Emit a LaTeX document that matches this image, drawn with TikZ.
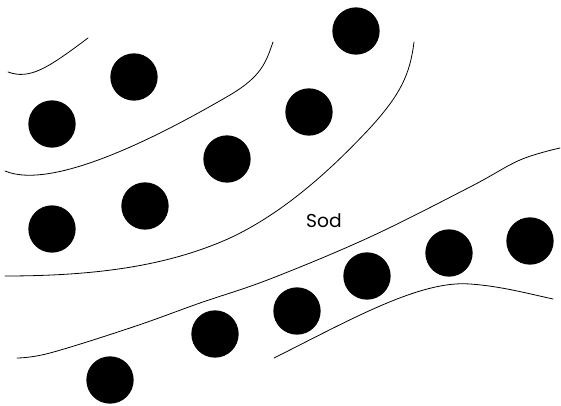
\documentclass[tikz,border=0pt]{standalone}
\usepackage{fontspec}
\setmainfont{Poppins}
\usepackage{tikz}
\usetikzlibrary{positioning}
\definecolor{ink}{HTML}{000000}
\tikzset{
  % --- nodes
  stone/.style = {circle, fill=ink, draw=none, minimum size=35.5pt, inner sep=0pt},
  lbl/.style   = {font=\fontsize{14}{16}\selectfont, text=ink},
  % --- lines
  seam/.style  = {draw=ink, line width=0.6pt, line cap=round},
}
\begin{document}
\begin{tikzpicture}[x=0.75pt, y=-0.75pt]
  \useasboundingbox (0,0) rectangle (561,406);

  % stones, upper band
  \node[stone] (s1)  at (356,31)  {};
  \node[stone] (s2)  at (134,77)  {};
  \node[stone] (s3)  at (52,124)  {};
  \node[stone] (s4)  at (309,112) {};
  \node[stone] (s5)  at (227,159) {};
  \node[stone] (s6)  at (145,206) {};
  \node[stone] (s7)  at (52,229)  {};
  % stones, lower band
  \node[stone] (s8)  at (530,241) {};
  \node[stone] (s9)  at (449,253) {};
  \node[stone] (s10) at (367,276) {};
  \node[stone] (s11) at (297,311) {};
  \node[stone] (s12) at (215,334) {};
  \node[stone] (s13) at (110,380) {};

  \node[lbl] (sod) at (324,221) {Sod};

  % seams
  \draw[seam] (8,72) .. controls (30,80) and (48,68) .. (88,38);
  \draw[seam] (5,171) .. controls (55,192) and (170,130) .. (230,95)
                      .. controls (262,76) and (266,62) .. (273,42);
  \draw[seam] (5,276) .. controls (100,276) and (170,265) .. (230,238)
                      .. controls (290,210) and (340,160) .. (370,128)
                      .. controls (400,95) and (410,75) .. (414,42);
  \draw[seam] plot[smooth, tension=0.6] coordinates
    {(17,358) (50,353) (133,327) (200,303) (270,279) (370,237) (470,187) (520,160) (560,148)};
  \draw[seam] (274,358) .. controls (350,320) and (420,280) .. (470,284)
                        .. controls (500,286) and (530,294) .. (553,299);
\end{tikzpicture}
\end{document}
